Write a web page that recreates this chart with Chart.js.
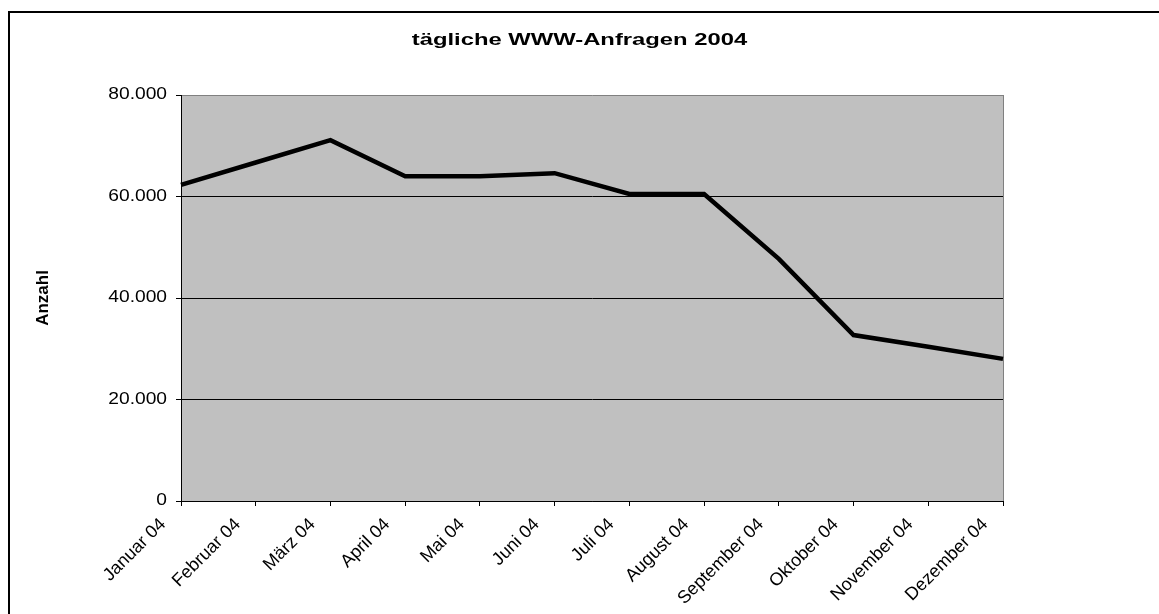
<!DOCTYPE html>
<html>
<head>
<meta charset="utf-8">
<script src="https://cdn.jsdelivr.net/npm/chart.js@4/dist/chart.umd.min.js"></script>
<style>
  html, body { margin: 0; padding: 0; background: #ffffff; }
  #wrap { width: 1159px; height: 614px; position: relative; }
</style>
</head>
<body>
<div id="wrap"><canvas id="c" width="1159" height="614"></canvas></div>
<script>
// ---- data ----
const chartTitle = 'tägliche WWW-Anfragen 2004';
const yAxisTitle = 'Anzahl';
const categories = ['Januar 04', 'Februar 04', 'März 04', 'April 04', 'Mai 04', 'Juni 04',
                    'Juli 04', 'August 04', 'September 04', 'Oktober 04', 'November 04', 'Dezember 04'];
const requests = [62300, 66700, 71100, 64000, 64000, 64600, 60500, 60500, 47700, 32700, 30400, 28000];
const yTicks = [0, 20000, 40000, 60000, 80000];

function fmtDE(v) {
  return String(v).replace(/\B(?=(\d{3})+(?!\d))/g, '.');
}

const canvas = document.getElementById('c');
const ctx = canvas.getContext('2d');

// horizontal text stretch (reference text is rendered wide)
const origFill = CanvasRenderingContext2D.prototype.fillText;
ctx.fillText = function (text, x, y, maxW) {
  const m = this.getTransform();
  if (Math.abs(m.b) > 1e-6 || Math.abs(m.c) > 1e-6) {
    return origFill.call(this, text, x, y);
  }
  const sx = /bold/.test(this.font) ? 1.4 : 1.2;
  const p = m.transformPoint(new DOMPoint(x, y));
  const s = new DOMMatrix().translate(p.x, p.y).scale(sx, 1).translate(-p.x, -p.y).multiply(m);
  this.save();
  this.setTransform(s);
  origFill.call(this, text, x, y);
  this.restore();
};

const bgPlugin = {
  id: 'bg',
  beforeDraw(chart) {
    const c = chart.ctx, a = chart.chartArea;
    c.save();
    c.fillStyle = '#ffffff';
    c.fillRect(0, 0, chart.width, chart.height);
    c.fillStyle = '#c0c0c0';
    c.fillRect(a.left, a.top, a.right - a.left, a.bottom - a.top);
    // outer frame (top & left)
    c.strokeStyle = '#000000';
    c.lineWidth = 2;
    c.beginPath();
    c.moveTo(9, chart.height + 2);
    c.lineTo(9, 12);
    c.lineTo(chart.width + 2, 12);
    c.stroke();
    c.restore();
  }
};

const FONT = "'Liberation Sans', Arial, sans-serif";

new Chart(ctx, {
  type: 'line',
  data: {
    labels: categories,
    datasets: [{
      data: requests,
      borderColor: '#000000',
      borderWidth: 4.5,
      pointRadius: 0,
      pointHoverRadius: 0,
      tension: 0,
      fill: false
    }]
  },
  options: {
    responsive: false,
    animation: false,
    devicePixelRatio: 1,
    layout: { padding: { left: 0, right: 0, top: 0, bottom: 0 } },
    plugins: {
      legend: { display: false },
      tooltip: { enabled: false },
      title: {
        display: true,
        text: chartTitle,
        color: '#000000',
        font: { family: FONT, size: 17, weight: 'bold' },
        padding: { top: 30, bottom: 44.6 }
      }
    },
    scales: {
      x: {
        type: 'category',
        offset: false,
        border: { display: true, color: '#000000', width: 1 },
        grid: {
          display: true,
          drawOnChartArea: true,
          color: (c) => (c.index === categories.length - 1 ? '#808080' : 'rgba(0,0,0,0)'),
          tickColor: '#000000',
          tickLength: 5,
          lineWidth: 1
        },
        ticks: {
          autoSkip: false,
          maxRotation: 45,
          minRotation: 45,
          color: '#000000',
          font: { family: FONT, size: 18 },
          padding: 8,
          labelOffset: -18
        },
        afterFit(scale) { scale.height = 113; }
      },
      y: {
        min: 0,
        max: 80000,
        afterBuildTicks(scale) { scale.ticks = yTicks.map(v => ({ value: v })); },
        border: { display: true, color: '#000000', width: 1 },
        grid: {
          color: (c) => (c.tick && c.tick.value === 80000 ? '#808080' : '#000000'),
          tickColor: '#000000',
          tickLength: 5,
          lineWidth: 1
        },
        ticks: {
          color: '#000000',
          font: { family: FONT, size: 16 },
          padding: 9,
          callback: (v) => fmtDE(v)
        },
        title: {
          display: true,
          text: yAxisTitle,
          color: '#000000',
          font: { family: FONT, size: 17, weight: 'bold' },
          padding: { top: 33, bottom: 0 }
        },
        afterFit(scale) { scale.width = 181; }
      },
      spacer: {
        type: 'linear',
        position: 'right',
        display: true,
        grid: { display: false, drawTicks: false },
        border: { display: false },
        ticks: { display: false },
        afterFit(scale) { scale.width = 156; }
      }
    }
  },
  plugins: [bgPlugin]
});
</script>
</body>
</html>
